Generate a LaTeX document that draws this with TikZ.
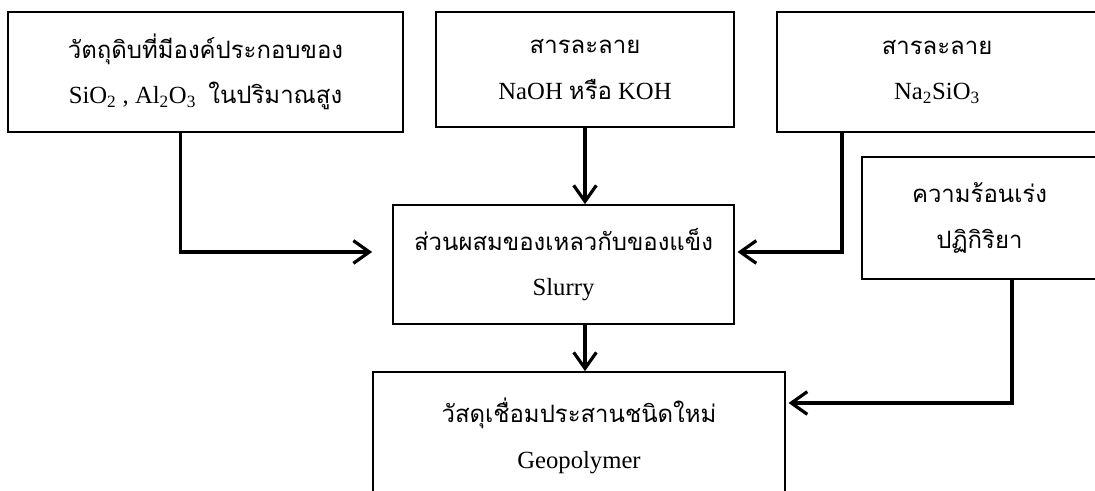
\documentclass[tikz,border=0pt]{standalone}
\usepackage{fontspec}
\setmainfont{Liberation Serif}
\newfontfamily\thai[Script=Thai,Scale=0.97]{Loma}
\usetikzlibrary{arrows.meta}
\tikzset{
  box/.style={draw, line width=1.3pt, align=center, inner sep=0pt,
    font=\fontsize{18.5pt}{34pt}\selectfont},
  flow/.style={line width=2.4pt, -{Straight Barb[length=12pt,width=17pt]}},
}
\begin{document}
\begin{tikzpicture}[x=0.75pt,y=-0.75pt]
  \clip (0,0) rectangle (1095,490);
  \fill[white] (0,0) rectangle (1095,490);
  % inputs
  \node[box, minimum width=296pt, minimum height=90pt] (raw) at (205.5,72)
    {{\thai วัตถุดิบที่มีองค์ประกอบของ}\\SiO\textsubscript{2} , Al\textsubscript{2}O\textsubscript{3} \ {\thai ในปริมาณสูง}};
  \node[box, minimum width=223.5pt, minimum height=86pt] (naoh) at (585,69.5)
    {{\thai สารละลาย}\\NaOH {\thai หรือ} KOH};
  \node[box, minimum width=240pt, minimum height=90pt] (silicate) at (937,72)
    {{\thai สารละลาย}\\Na\textsubscript{2}SiO\textsubscript{3}};
  \node[box, minimum width=176pt, minimum height=91.5pt] (heat) at (979.5,218)
    {{\thai ความร้อนเร่ง}\\{\thai ปฏิกิริยา}};
  % mixture and product
  \node[box, minimum width=255.75pt, minimum height=89.25pt] (slurry) at (563.5,264.5)
    {{\thai ส่วนผสมของเหลวกับของแข็ง}\\Slurry};
  \node[box, minimum width=309pt, minimum height=96pt] (geo) at (579,436)
    {{\thai วัสดุเชื่อมประสานชนิดใหม่}\\Geopolymer};
  % arrows
  \draw[flow] ([xshift=-19pt]raw.south) |- ([xshift=-15pt,yshift=9.4pt]slurry.west);
  \draw[flow] (naoh.south) -- (naoh.south |- slurry.north);
  \draw[flow] ([xshift=-71.25pt]silicate.south) |- ([xshift=2pt,yshift=9.4pt]slurry.east);
  \draw[flow] (naoh.south |- slurry.south) -- (naoh.south |- geo.north);
  \draw[flow] ([xshift=24.4pt]heat.south) |- ([xshift=2pt,yshift=24.75pt]geo.east);
\end{tikzpicture}
\end{document}
